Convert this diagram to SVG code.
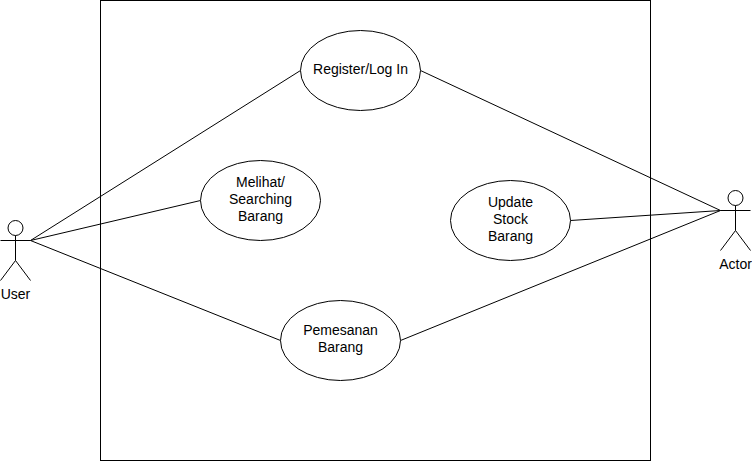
<svg xmlns="http://www.w3.org/2000/svg" width="752" height="461" viewBox="0 0 752 461">
<style>
.s{fill:none;stroke:#000;stroke-width:1}
.n{fill:#fff;stroke:#000;stroke-width:1}
text{font-family:"Liberation Sans",Arial,Helvetica,sans-serif;font-size:14px;fill:#000;text-anchor:middle}
</style>
<rect width="752" height="461" fill="#fff"/>
<g id="boundary"><rect class="n" x="100.500" y="0.500" width="550" height="460"/></g>
<g id="connectors">
<path class="s" d="M30.500 240.500L300.500 70.500"/>
<path class="s" d="M30.500 240.500L200.500 200.500"/>
<path class="s" d="M30.500 240.500L280.500 340.500"/>
<path class="s" d="M720.500 210.500L420.500 70.500"/>
<path class="s" d="M720.500 210.500L570.500 220.500"/>
<path class="s" d="M720.500 210.500L400.500 340.500"/>
</g>
<g id="user">
<circle class="n" cx="15.500" cy="228" r="7.500"/>
<path class="s" d="M15.500 235.500V260.500M0.500 240.500H30.500M15.500 260.500L0.500 280.500M15.500 260.500L30.500 280.500"/>
<text x="15.500" y="299">User</text>
</g>
<g id="actor">
<circle class="n" cx="735.500" cy="198" r="7.500"/>
<path class="s" d="M735.500 205.500V230.500M720.500 210.500H750.500M735.500 230.500L720.500 250.500M735.500 230.500L750.500 250.500"/>
<text x="735.500" y="269">Actor</text>
</g>
<g id="register">
<ellipse class="n" cx="360.500" cy="70.500" rx="60" ry="40"/>
<text x="360.500" y="74">Register/Log In</text>
</g>
<g id="melihat">
<ellipse class="n" cx="260.500" cy="200.500" rx="60" ry="40"/>
<text x="260.500" y="187">Melihat/</text>
<text x="260.500" y="204">Searching</text>
<text x="260.500" y="221">Barang</text>
</g>
<g id="update">
<ellipse class="n" cx="510.500" cy="220.500" rx="60" ry="40"/>
<text x="510.500" y="207">Update</text>
<text x="510.500" y="224">Stock</text>
<text x="510.500" y="241">Barang</text>
</g>
<g id="pemesanan">
<ellipse class="n" cx="340.500" cy="340.500" rx="60" ry="40"/>
<text x="340.500" y="335">Pemesanan</text>
<text x="340.500" y="352">Barang</text>
</g>
</svg>
